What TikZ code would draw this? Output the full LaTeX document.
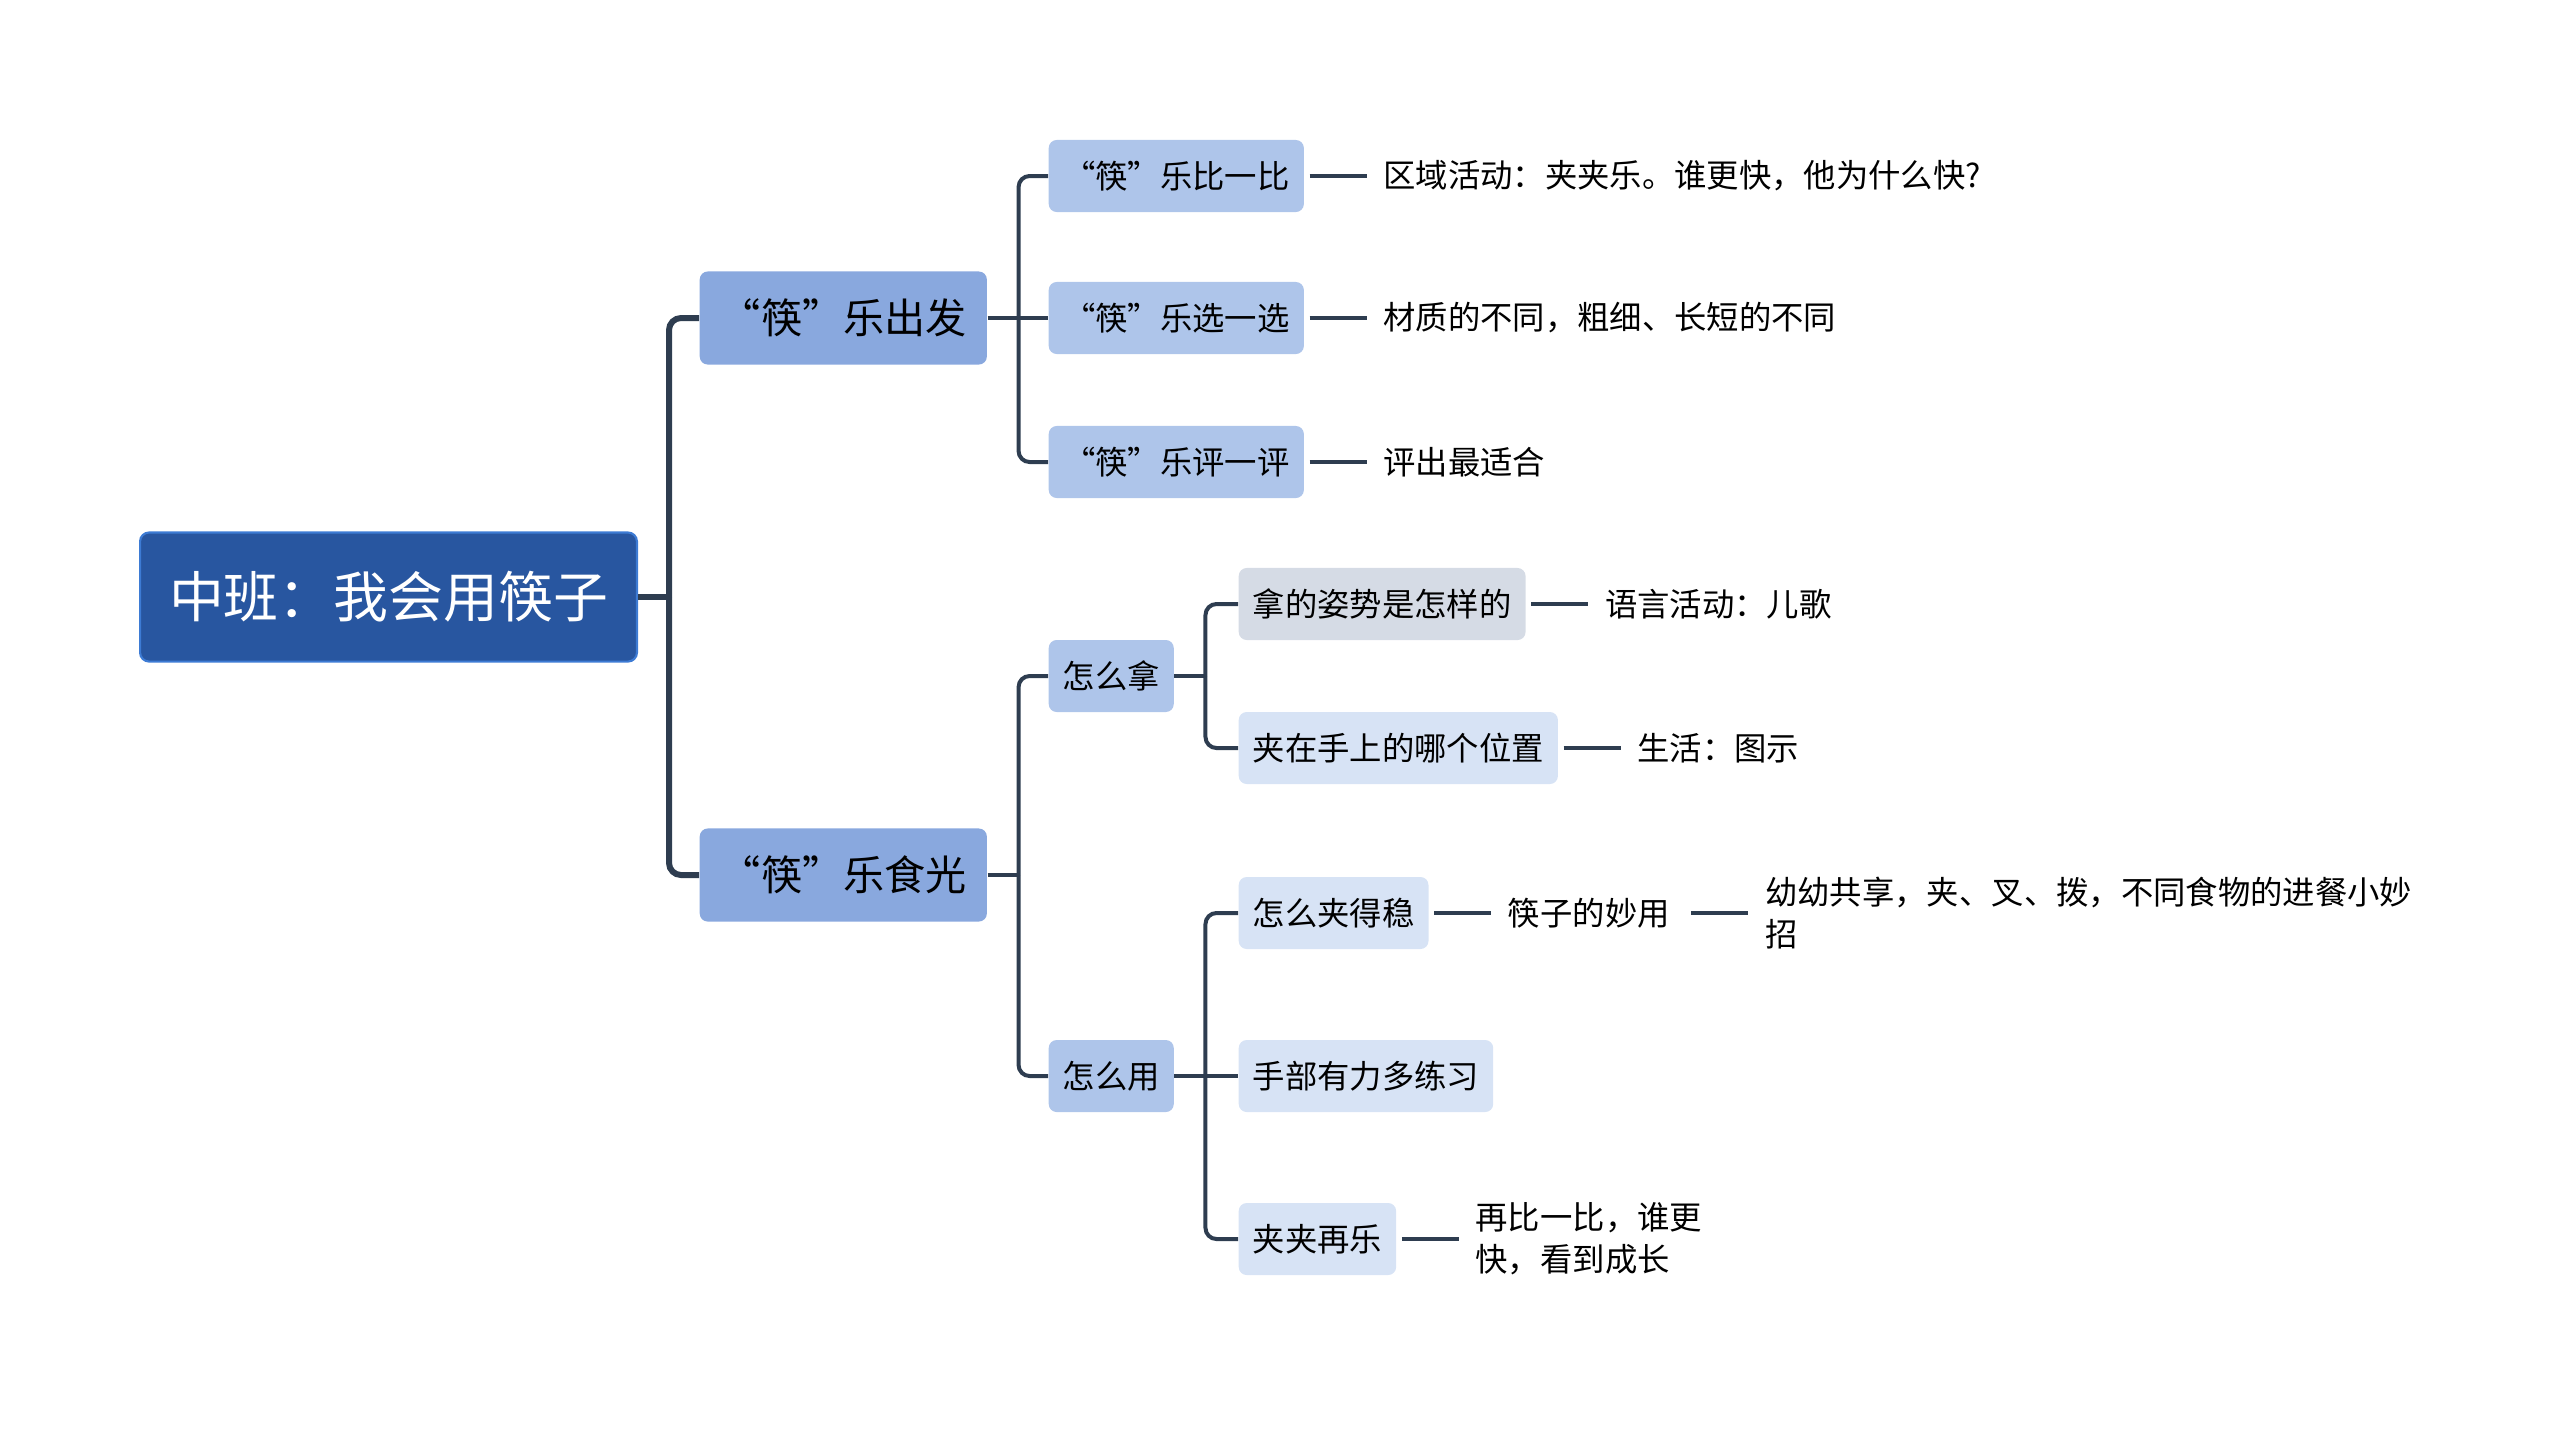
\documentclass[tikz,border=0pt]{standalone}
\usepackage{fontspec}
\setmainfont{Noto Sans CJK SC}
\usetikzlibrary{positioning}

\definecolor{rootblue}{HTML}{2856A0}
\definecolor{rootedge}{HTML}{3D7BD4}
\definecolor{topicblue}{HTML}{89A8DE}
\definecolor{subblue}{HTML}{AEC5EA}
\definecolor{itemblue}{HTML}{D7E3F5}
\definecolor{itemgrey}{HTML}{D5DBE5}
\definecolor{linkgrey}{HTML}{2E3D50}

\tikzset{
  rootbox/.style={fill=rootblue, draw=rootedge, line width=0.6pt, rounded corners=0.9mm,
    text=white, font=\fontsize{15.6}{18}\selectfont, inner xsep=2.9mm, minimum height=12.9mm, anchor=west},
  topicbox/.style={fill=topicblue, rounded corners=0.8mm, font=\fontsize{11.7}{14}\selectfont,
    minimum width=28.7mm, minimum height=9.3mm, anchor=west},
  subbox/.style={fill=subblue, rounded corners=0.8mm, font=\fontsize{9.2}{12}\selectfont,
    inner xsep=1.4mm, minimum height=7.2mm, anchor=west},
  itembox/.style={subbox, fill=itemblue},
  leaf/.style={font=\fontsize{9.2}{12}\selectfont, inner xsep=1.6mm, align=left, right=6.2mm of #1},
  trunk/.style={draw=linkgrey, line width=0.6mm, rounded corners=1.2mm},
  link/.style={draw=linkgrey, line width=0.4mm, rounded corners=1.1mm},
}

\begin{document}
\begin{tikzpicture}[x=0.01cm, y=-0.01cm]
    \useasboundingbox (0,0) rectangle (2560,1435);
    % Root
    \node[rootbox] (root) at (139,597) {中班：我会用筷子};
    % Topics
    \node[topicbox] (start) at (699,318) {“筷”乐出发};
    \node[topicbox] (eat) at (699,875) {“筷”乐食光};
    % First topic
    \node[subbox, minimum width=25.5mm] (cmp) at (1048,176) {“筷”乐比一比};
    \node[subbox, minimum width=25.5mm] (pick) at (1048,318) {“筷”乐选一选};
    \node[subbox, minimum width=25.5mm] (judge) at (1048,462) {“筷”乐评一评};
    \node[leaf=cmp] (cmpleaf) {区域活动：夹夹乐。谁更快，他为什么快?};
    \node[leaf=pick] (pickleaf) {材质的不同，粗细、长短的不同};
    \node[leaf=judge] (judgeleaf) {评出最适合};
    % Second topic
    \node[subbox] (hold) at (1048,676) {怎么拿};
    \node[subbox] (use) at (1048,1076) {怎么用};
    \node[itembox, fill=itemgrey] (pose) at (1238,604) {拿的姿势是怎样的};
    \node[itembox] (where) at (1238,748) {夹在手上的哪个位置};
    \node[itembox] (steady) at (1238,913) {怎么夹得稳};
    \node[itembox] (hand) at (1238,1076) {手部有力多练习};
    \node[itembox] (again) at (1238,1239) {夹夹再乐};
    \node[leaf=pose] (poseleaf) {语言活动：儿歌};
    \node[leaf=where] (whereleaf) {生活：图示};
    \node[leaf=steady] (trick) {筷子的妙用};
    \node[leaf=trick] (trickleaf) {幼幼共享，夹、叉、拨，不同食物的进餐小妙\\招};
    \node[leaf=again] (againleaf) {再比一比，谁更\\快，看到成长};
    % Connectors
    \draw[trunk] (root.east) -- ++(31,0) coordinate (j0);
    \foreach \n in {start,eat}
        \draw[trunk] (j0) |- (\n.west);
    \draw[link] (start.east) -- ++(31,0) coordinate (j1);
    \foreach \n in {cmp,judge}
        \draw[link] (j1) |- (\n.west);
    \draw[link] (j1) -- (pick.west);
    \draw[link] (eat.east) -- ++(31,0) coordinate (j2);
    \foreach \n in {hold,use}
        \draw[link] (j2) |- (\n.west);
    \draw[link] (hold.east) -- ++(31,0) coordinate (j3);
    \foreach \n in {pose,where}
        \draw[link] (j3) |- (\n.west);
    \draw[link] (use.east) -- ++(31,0) coordinate (j4);
    \foreach \n in {steady,again}
        \draw[link] (j4) |- (\n.west);
    \draw[link] (j4) -- (hand.west);
    \foreach \a/\b in {cmp/cmpleaf,pick/pickleaf,judge/judgeleaf,pose/poseleaf,where/whereleaf,steady/trick,trick/trickleaf,again/againleaf}
        \draw[link] ([xshift=0.5mm]\a.east) -- (\b.west);
\end{tikzpicture}
\end{document}
